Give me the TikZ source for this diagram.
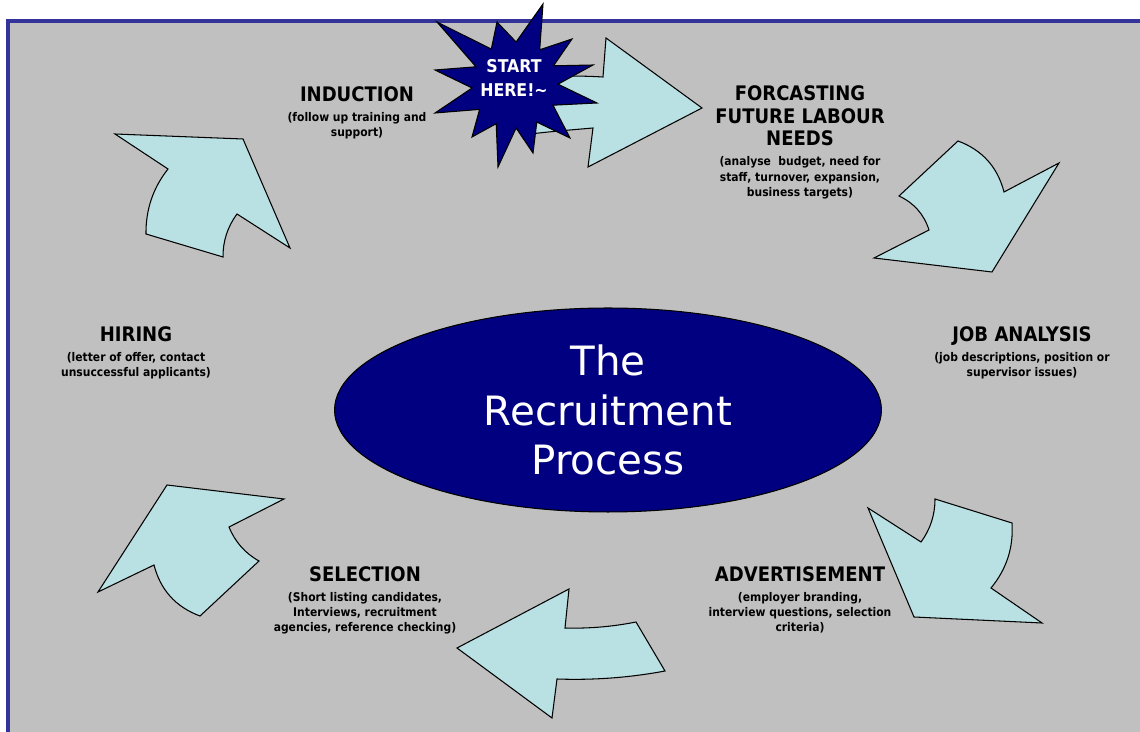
\documentclass[tikz,border=0pt]{standalone}
\usepackage{fontspec}
\setmainfont{DejaVu Sans}
\newfontfamily\condfont{DejaVu Sans Condensed}
\usetikzlibrary{shapes.geometric}

\definecolor{panelgray}{RGB}{192,192,192}
\definecolor{panelblue}{RGB}{51,51,153}
\definecolor{arrowcyan}{RGB}{185,224,227}
\definecolor{navyfill}{RGB}{0,0,128}
\newcommand{\stagehead}[1]{{\fontsize{11.4}{11.8}\selectfont\strut #1}}

\begin{document}
\begin{tikzpicture}[x=0.02cm,y=-0.02cm,
    cyclearrow/.style={draw=black,fill=arrowcyan,line width=0.6pt},
    stage/.style={anchor=north,inner sep=0pt,align=center,text=black,
      font=\condfont\bfseries\fontsize{6.8}{8.8}\selectfont}]
  \useasboundingbox (0,0) rectangle (1140,732);
  \clip (0,0) rectangle (1140,732);
  \draw[panelblue,line width=2.3pt,fill=panelgray]
    (8,21) rectangle (1170,770);

  % the cycle of arrows
  \draw[cyclearrow]
    (702,108) -- (606,38) -- (603,77)
    .. controls (570,75) and (530,76) .. (505,82) -- (522,135)
    .. controls (545,132) and (570,130) .. (593,128) -- (588,167) -- cycle;
  \draw[cyclearrow]
    (958,141) .. controls (982.2,150) and (997.6,167) .. (1004,192)
    -- (1059,163) -- (992,272) -- (874,258) -- (929,230)
    .. controls (924,214.3) and (914,203) .. (899,196) -- cycle;
  \draw[cyclearrow]
    (935,499) -- (1012,523)
    .. controls (1013.6,547.5) and (1006.6,569.1) .. (991,588)
    -- (1042,623) -- (914,617) -- (868,508) -- (921,542)
    .. controls (930.4,529.2) and (935,514.9) .. (935,499) -- cycle;
  \draw[cyclearrow]
    (457,648) -- (569,589) -- (565,628)
    .. controls (588.9,628.7) and (612.5,626.7) .. (636,622)
    -- (665,671)
    .. controls (629.3,677.7) and (593.3,680.3) .. (557,679)
    -- (552,718) -- cycle;
  \draw[cyclearrow]
    (167,485) -- (284,499) -- (229,527)
    .. controls (235,541.8) and (245,553.2) .. (259,561)
    -- (200,616)
    .. controls (175.8,607) and (160.4,590) .. (154,565)
    -- (98,592) -- cycle;
  \draw[cyclearrow]
    (115,134) -- (243,139) -- (290,248) -- (237,214)
    .. controls (227.5,226.8) and (222.9,241.2) .. (223,257)
    -- (146,234)
    .. controls (145.7,209.7) and (153,188) .. (168,169) -- cycle;

  % start burst
  \draw[draw=black,line width=0.6pt,fill=navyfill]
    (593,65) -- (553.5,65.8) -- (572,39) -- (539.7,49.8) -- (543,4)
    -- (516.1,42) -- (497,22) -- (491.3,49.1) -- (437,22) -- (476,66.8)
    -- (435,70) -- (472.1,88) -- (435,113) -- (479.6,109.4) -- (472,137)
    -- (496.2,123.7) -- (498,167) -- (516.1,128) -- (533,153)
    -- (536.8,122.1) -- (570,138) -- (553,105.2) -- (597,103)
    -- (558,84.2) -- cycle;
  \node[inner sep=0pt,text=white,align=center,
    font=\condfont\bfseries\fontsize{10}{13.6}\selectfont] (start) at (514,78)
    {START\\HERE!\textasciitilde};

  % stages
  \node[stage] (induction) at (357,86)
    {\stagehead{INDUCTION}\\[2.5pt]
     (follow up training and\\support)};
  \node[stage] (forecast) at (800,85)
    {\stagehead{FORCASTING}\\\stagehead{FUTURE LABOUR}\\\stagehead{NEEDS}\\[2.5pt]
     (analyse\ \ budget, need for\\staff, turnover, expansion,\\business targets)};
  \node[stage] (jobanalysis) at (1022,326)
    {\stagehead{JOB ANALYSIS}\\[2.5pt]
     (job descriptions, position or\\supervisor issues)};
  \node[stage] (advert) at (800,566)
    {\stagehead{ADVERTISEMENT}\\[2.5pt]
     (employer branding,\\interview questions, selection\\criteria)};
  \node[stage] (selection) at (365,566)
    {\stagehead{SELECTION}\\[2.5pt]
     (Short listing candidates,\\Interviews, recruitment\\agencies, reference checking)};
  \node[stage] (hiring) at (136,326)
    {\stagehead{HIRING}\\[2.5pt]
     (letter of offer, contact\\unsuccessful applicants)};

  \node[ellipse,draw=black,line width=0.6pt,fill=navyfill,text=white,
    minimum width=10.94cm,minimum height=4.08cm,inner sep=0pt,align=center,
    font=\fontsize{23}{28}\selectfont] (process) at (608,410)
    {The\\Recruitment\\Process};
\end{tikzpicture}
\end{document}
